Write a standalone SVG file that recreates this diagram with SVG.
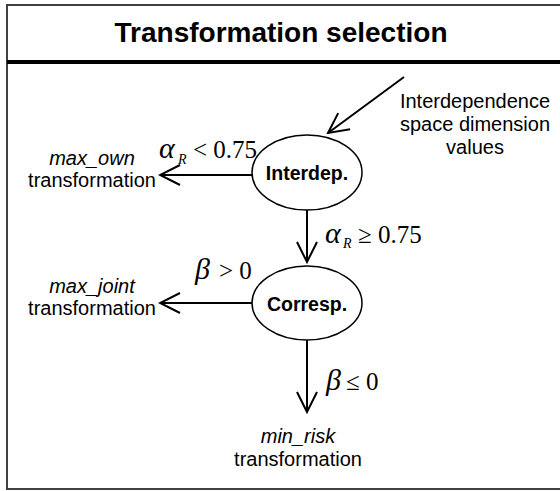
<svg xmlns="http://www.w3.org/2000/svg" width="560" height="491" viewBox="0 0 560 491">
<defs>
<marker id="arr" viewBox="-22 -12 24 24" refX="0" refY="0" markerWidth="24" markerHeight="24" markerUnits="userSpaceOnUse" orient="auto">
<path d="M-20,-10 L0,0 L-20,10" fill="none" stroke="#000" stroke-width="2"/>
</marker>
<style>
.lbl{font-family:"Liberation Sans",Arial,sans-serif;font-size:20px;fill:#000;text-anchor:middle}
.it{font-style:italic}
.node{font-family:"Liberation Sans",Arial,sans-serif;font-size:19.5px;font-weight:bold;text-anchor:middle}
.math{font-family:"Liberation Serif","Times New Roman",serif;font-size:25px;fill:#000}
.greek{font-family:"Liberation Serif","Times New Roman",serif;font-size:30px;font-style:italic;fill:#000}
.sub{font-family:"Liberation Serif","Times New Roman",serif;font-size:14px;font-style:italic}
.conn{fill:none;stroke:#000;stroke-width:2;marker-end:url(#arr)}
.ell{fill:#fff;stroke:#000;stroke-width:1.5}
</style>
</defs>
<rect x="0" y="0" width="560" height="491" fill="#fff"/>
<g id="frame">
<rect x="7" y="5" width="570" height="484" fill="none" stroke="#404040" stroke-width="2"/>
<line x1="7" y1="62" x2="560" y2="62" stroke="#000" stroke-width="4"/>
<text x="281" y="42" font-family="Liberation Sans,Arial,sans-serif" font-size="28" font-weight="bold" text-anchor="middle">Transformation selection</text>
</g>
<g id="connectors">
<line class="conn" x1="404" y1="77" x2="328" y2="133"/>
<line class="conn" x1="252" y1="175" x2="160" y2="175"/>
<line class="conn" x1="307" y1="210" x2="307" y2="262"/>
<line class="conn" x1="252" y1="303" x2="160" y2="303"/>
<line class="conn" x1="307" y1="340" x2="307" y2="412"/>
</g>
<g id="interdep">
<ellipse class="ell" cx="307" cy="172.5" rx="55" ry="37.5"/>
<text class="node" x="307" y="180">Interdep.</text>
</g>
<g id="corresp">
<ellipse class="ell" cx="307" cy="303" rx="55" ry="37"/>
<text class="node" x="307" y="311">Corresp.</text>
</g>
<g id="input">
<text class="lbl" x="475" y="108">Interdependence</text>
<text class="lbl" x="475" y="131">space dimension</text>
<text class="lbl" x="475" y="154">values</text>
</g>
<g id="max_own">
<text class="lbl it" x="92" y="165">max_own</text>
<text class="lbl" x="92" y="187">transformation</text>
</g>
<g id="max_joint">
<text class="lbl it" x="92" y="293">max_joint</text>
<text class="lbl" x="92" y="315">transformation</text>
</g>
<g id="min_risk">
<text class="lbl it" x="298" y="443">min_risk</text>
<text class="lbl" x="298" y="466">transformation</text>
</g>
<g id="conditions">
<text class="greek" x="159" y="158">α</text>
<text class="sub" x="178" y="164">R</text>
<text class="math" x="193" y="158">&lt; 0.75</text>
<text class="greek" x="325" y="243">α</text>
<text class="sub" x="343" y="248">R</text>
<text class="math" x="358" y="243">≥ 0.75</text>
<text class="greek" x="195" y="279" font-size="27">β</text>
<text class="math" x="219" y="279">&gt; 0</text>
<text class="greek" x="326" y="390" font-size="27">β</text>
<text class="math" x="346" y="390">≤ 0</text>
</g>
</svg>
